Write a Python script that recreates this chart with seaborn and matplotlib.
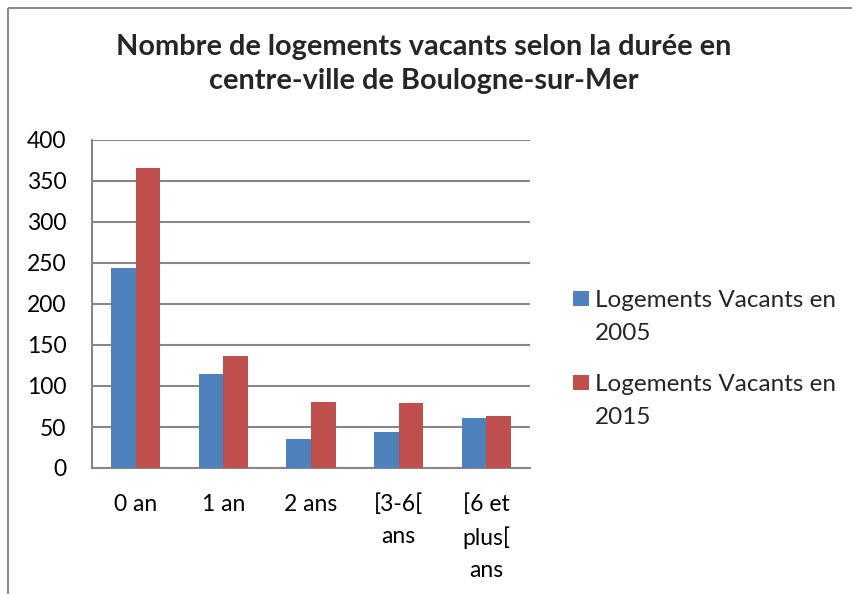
import matplotlib
matplotlib.use("Agg")
import matplotlib.pyplot as plt
from matplotlib.patches import Rectangle
from matplotlib.lines import Line2D
from matplotlib.legend_handler import HandlerPatch
import pandas as pd
import seaborn as sns

categories = ["0 an", "1 an", "2 ans", "[3-6[\nans", "[6 et\nplus[\nans"]
series_names = ["Logements Vacants en\n2005", "Logements Vacants en\n2015"]
vacants_2005 = [244, 115, 35, 44, 61]
vacants_2015 = [366, 136, 81, 79, 63]
y_ticks = [0, 50, 100, 150, 200, 250, 300, 350, 400]
title = "Nombre de logements vacants selon la durée en\ncentre-ville de Boulogne-sur-Mer"

df = pd.DataFrame({
    "duree": categories * 2,
    "serie": [series_names[0]] * len(categories) + [series_names[1]] * len(categories),
    "valeur": vacants_2005 + vacants_2015,
})

sns.set_theme(style="white")
plt.rcParams["font.family"] = ["Lato", "DejaVu Sans"]

W, H = 853, 594
fig = plt.figure(figsize=(W / 100, H / 100), dpi=100)
fig.patch.set_facecolor("white")
fig.patch.set_edgecolor("none")
fig.patch.set_linewidth(0)

# outer chart frame: left edge and top edge
frame_x = 8 / W
frame_y = 1 - 7.5 / H
frame_kw = dict(transform=fig.transFigure, color="#8c8c8c", linewidth=1.5,
                solid_capstyle="butt")
fig.add_artist(Line2D([frame_x, frame_x], [0, frame_y], **frame_kw))
fig.add_artist(Line2D([frame_x, 1.0], [frame_y, frame_y], **frame_kw))

ax = fig.add_axes([92 / W, 1 - 468 / H, 438 / W, 328 / H])
palette = {series_names[0]: "#4F81BD", series_names[1]: "#C0504D"}
sns.barplot(data=df, x="duree", y="valeur", hue="serie", order=categories,
            hue_order=series_names, palette=palette, width=0.56, gap=0,
            saturation=1, ax=ax, zorder=3, edgecolor="none")

ax.set_ylim(0, 400)
ax.set_xlim(-0.5, len(categories) - 0.5)
ax.set_yticks(y_ticks)
ax.set_yticklabels([str(v) for v in y_ticks], fontsize=16.5)
ax.set_xticks(range(len(categories)))
ax.set_xticklabels(categories, fontsize=16.5, va="top", linespacing=1.62)
ax.tick_params(axis="both", length=0, colors="black")
ax.tick_params(axis="y", pad=18.5)
ax.tick_params(axis="x", pad=18.5)
ax.set_xlabel("")
ax.set_ylabel("")
ax.yaxis.grid(True, color="#878787", linewidth=1.5, zorder=0)
ax.set_axisbelow(True)
for side in ["top", "right"]:
    ax.spines[side].set_visible(False)
for side in ["left", "bottom"]:
    ax.spines[side].set_color("#878787")
    ax.spines[side].set_linewidth(1.5)


def square_handle(legend, orig_handle, xdescent, ydescent, width, height, fontsize):
    # square aligned with the first line of a two-line label
    s = height
    return Rectangle((-xdescent, -ydescent + 0.76 * fontsize), s, s)


handles, labels = ax.get_legend_handles_labels()
leg = ax.legend(handles, labels, loc="upper left",
                bbox_to_anchor=(573 / W, 1 - 290 / H), bbox_transform=fig.transFigure,
                frameon=False, fontsize=17.5, handlelength=0.62, handleheight=0.62,
                handletextpad=0.3, labelspacing=1.24, borderpad=0, borderaxespad=0,
                handler_map={Rectangle: HandlerPatch(patch_func=square_handle)})
for t in leg.get_texts():
    t.set_linespacing(1.7)

fig.text(0.4965, 1 - 64 / H, title, ha="center", va="center", fontsize=20.8,
         fontweight="bold", linespacing=1.36)

fig.savefig("out.png", dpi=100)
